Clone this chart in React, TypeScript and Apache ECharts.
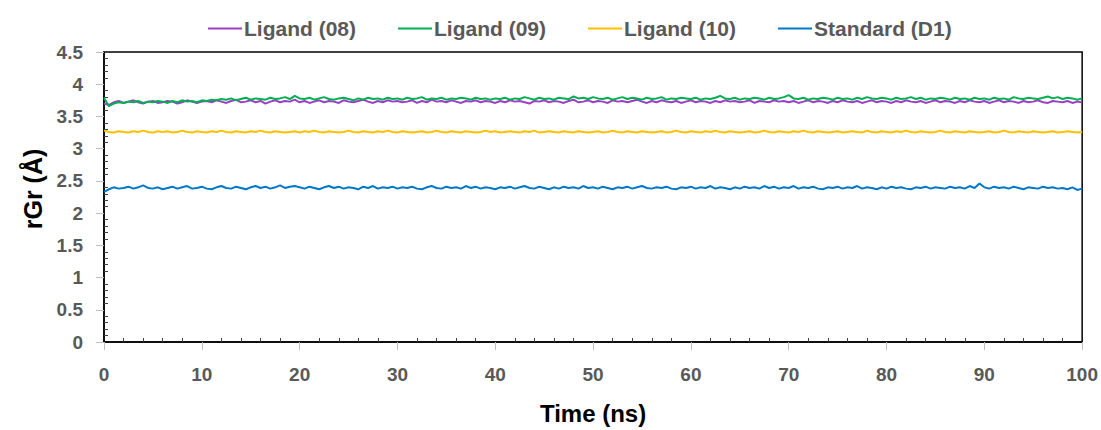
import React, { useEffect, useRef } from "react";
import * as echarts from "echarts";

const SERIES_NAMES = ["Ligand (08)", "Ligand (09)", "Ligand (10)", "Standard (D1)"];
const SERIES_COLORS = ["#9B3FC6", "#00B050", "#FFC000", "#0078C8"];
const TIME_STEP = 0.5;

const LIGAND_08 = [
  3.70,3.68,3.72,3.74,3.71,3.73,3.75,3.72,3.70,3.73,3.74,3.71,3.72,3.74,3.73,3.70,3.72,3.75,3.73,3.71,
  3.73,3.74,3.72,3.75,3.73,3.71,3.74,3.76,3.72,3.73,3.75,3.72,3.74,3.70,3.73,3.75,3.72,3.74,3.73,3.76,
  3.72,3.74,3.71,3.73,3.75,3.72,3.74,3.73,3.71,3.75,3.73,3.72,3.74,3.76,3.73,3.71,3.74,3.72,3.75,3.73,
  3.74,3.72,3.73,3.75,3.71,3.74,3.72,3.76,3.73,3.74,3.72,3.75,3.73,3.71,3.74,3.73,3.75,3.72,3.74,3.73,
  3.71,3.74,3.72,3.75,3.73,3.74,3.72,3.70,3.74,3.73,3.75,3.72,3.74,3.73,3.71,3.74,3.76,3.72,3.73,3.75,
  3.72,3.74,3.73,3.71,3.75,3.73,3.74,3.72,3.74,3.76,3.73,3.71,3.74,3.72,3.75,3.73,3.72,3.74,3.71,3.73,
  3.75,3.72,3.74,3.73,3.71,3.74,3.72,3.75,3.73,3.74,3.72,3.73,3.75,3.71,3.74,3.73,3.72,3.75,3.73,3.74,
  3.72,3.74,3.71,3.73,3.75,3.72,3.74,3.73,3.71,3.74,3.72,3.75,3.73,3.72,3.74,3.71,3.73,3.75,3.72,3.74,
  3.73,3.71,3.74,3.72,3.75,3.73,3.72,3.74,3.71,3.73,3.75,3.72,3.74,3.73,3.71,3.74,3.72,3.75,3.73,3.72,
  3.74,3.71,3.73,3.75,3.72,3.74,3.73,3.71,3.74,3.72,3.73,3.75,3.72,3.71,3.74,3.73,3.72,3.74,3.71,3.73,
  3.72,
];

const LIGAND_09 = [
  3.79,3.66,3.70,3.72,3.71,3.73,3.72,3.74,3.71,3.73,3.72,3.74,3.73,3.71,3.74,3.72,3.75,3.73,3.74,3.72,
  3.75,3.74,3.76,3.75,3.77,3.76,3.78,3.75,3.77,3.79,3.76,3.78,3.77,3.76,3.79,3.77,3.78,3.80,3.77,3.82,
  3.78,3.77,3.79,3.76,3.78,3.80,3.77,3.76,3.78,3.79,3.77,3.75,3.78,3.76,3.79,3.77,3.78,3.76,3.79,3.77,
  3.78,3.76,3.79,3.77,3.78,3.80,3.76,3.78,3.77,3.79,3.76,3.78,3.77,3.79,3.78,3.76,3.79,3.77,3.78,3.76,
  3.78,3.77,3.79,3.76,3.78,3.77,3.80,3.78,3.76,3.79,3.77,3.78,3.76,3.79,3.78,3.77,3.81,3.78,3.79,3.77,
  3.80,3.78,3.77,3.79,3.76,3.78,3.80,3.77,3.79,3.78,3.76,3.79,3.77,3.78,3.80,3.76,3.78,3.77,3.79,3.78,
  3.77,3.79,3.76,3.78,3.77,3.79,3.82,3.78,3.77,3.79,3.76,3.78,3.77,3.79,3.78,3.76,3.79,3.77,3.78,3.80,
  3.83,3.78,3.77,3.79,3.76,3.78,3.77,3.79,3.78,3.76,3.79,3.77,3.78,3.76,3.79,3.77,3.80,3.78,3.77,3.79,
  3.78,3.76,3.79,3.77,3.78,3.80,3.77,3.79,3.76,3.78,3.77,3.79,3.78,3.76,3.79,3.77,3.78,3.76,3.79,3.77,
  3.78,3.76,3.79,3.77,3.78,3.76,3.80,3.78,3.77,3.79,3.78,3.77,3.79,3.81,3.78,3.80,3.77,3.79,3.78,3.76,
  3.78,
];

const LIGAND_10 = [
  3.28,3.26,3.25,3.27,3.26,3.25,3.27,3.26,3.28,3.26,3.25,3.27,3.26,3.27,3.25,3.26,3.28,3.26,3.25,3.27,
  3.26,3.25,3.27,3.26,3.28,3.26,3.25,3.27,3.26,3.25,3.27,3.26,3.28,3.26,3.25,3.27,3.26,3.25,3.26,3.27,
  3.25,3.27,3.26,3.28,3.26,3.25,3.27,3.26,3.25,3.26,3.28,3.26,3.25,3.27,3.26,3.25,3.27,3.26,3.28,3.26,
  3.25,3.27,3.26,3.25,3.26,3.27,3.25,3.26,3.28,3.26,3.25,3.27,3.26,3.25,3.27,3.26,3.25,3.26,3.28,3.26,
  3.27,3.25,3.26,3.27,3.26,3.25,3.27,3.26,3.28,3.25,3.26,3.27,3.26,3.25,3.27,3.26,3.25,3.27,3.26,3.25,
  3.26,3.27,3.25,3.26,3.28,3.26,3.25,3.27,3.26,3.25,3.27,3.26,3.25,3.26,3.27,3.25,3.26,3.28,3.26,3.25,
  3.27,3.26,3.25,3.27,3.26,3.28,3.26,3.25,3.27,3.26,3.25,3.26,3.27,3.25,3.26,3.28,3.26,3.25,3.27,3.26,
  3.25,3.27,3.26,3.28,3.26,3.25,3.27,3.26,3.25,3.26,3.27,3.25,3.26,3.27,3.26,3.25,3.28,3.26,3.25,3.27,
  3.26,3.25,3.27,3.26,3.28,3.26,3.25,3.27,3.26,3.25,3.26,3.28,3.26,3.25,3.27,3.26,3.25,3.27,3.26,3.25,
  3.26,3.27,3.25,3.26,3.28,3.26,3.25,3.27,3.26,3.25,3.27,3.26,3.25,3.26,3.27,3.25,3.26,3.27,3.26,3.25,
  3.26,
];

const STANDARD_D1 = [
  2.33,2.37,2.40,2.38,2.39,2.41,2.38,2.40,2.43,2.39,2.38,2.40,2.37,2.39,2.41,2.38,2.40,2.42,2.38,2.39,
  2.41,2.38,2.37,2.40,2.42,2.39,2.38,2.41,2.39,2.37,2.40,2.42,2.39,2.41,2.38,2.40,2.43,2.39,2.41,2.42,
  2.40,2.38,2.41,2.39,2.37,2.40,2.42,2.39,2.41,2.38,2.40,2.39,2.37,2.41,2.39,2.42,2.38,2.40,2.39,2.41,
  2.38,2.40,2.39,2.41,2.38,2.37,2.40,2.42,2.39,2.38,2.41,2.39,2.40,2.38,2.42,2.39,2.41,2.38,2.40,2.39,
  2.37,2.40,2.39,2.41,2.38,2.40,2.42,2.39,2.38,2.41,2.39,2.37,2.40,2.38,2.41,2.39,2.40,2.38,2.42,2.39,
  2.40,2.38,2.41,2.39,2.37,2.40,2.39,2.41,2.38,2.40,2.42,2.39,2.38,2.40,2.39,2.41,2.38,2.37,2.40,2.39,
  2.41,2.38,2.40,2.39,2.42,2.38,2.40,2.39,2.37,2.40,2.38,2.41,2.39,2.40,2.38,2.42,2.39,2.41,2.38,2.40,
  2.39,2.42,2.38,2.40,2.39,2.41,2.38,2.37,2.40,2.39,2.41,2.38,2.40,2.39,2.42,2.38,2.40,2.39,2.37,2.40,
  2.38,2.41,2.39,2.40,2.38,2.37,2.40,2.39,2.41,2.38,2.40,2.39,2.38,2.41,2.39,2.40,2.38,2.42,2.39,2.46,
  2.40,2.38,2.41,2.39,2.40,2.38,2.41,2.39,2.37,2.40,2.39,2.38,2.41,2.39,2.40,2.38,2.39,2.37,2.40,2.36,
  2.38,
];

const SERIES_VALUES = [LIGAND_08, LIGAND_09, LIGAND_10, STANDARD_D1];

const FONT = "'Liberation Sans', Arial, sans-serif";

export default function App() {
  const ref = useRef<HTMLDivElement>(null);
  useEffect(() => {
    if (!ref.current) return;
    const chart = echarts.init(ref.current, undefined, { renderer: "svg" });
    chart.setOption({
      animation: false,
      backgroundColor: "#ffffff",
      legend: {
        top: 13,
        left: 203,
        icon: "rect",
        itemWidth: 34,
        itemHeight: 2,
        itemGap: 42,
        textStyle: { fontFamily: FONT, fontWeight: "bold", fontSize: 21, color: "#595959", padding: [0, 0, 0, -3] },
        data: SERIES_NAMES,
      },
      grid: {
        left: 104,
        right: 18,
        top: 52,
        bottom: 84,
        show: true,
        borderColor: "#000000",
        borderWidth: 1.5,
        containLabel: false,
      },
      xAxis: [
        {
          type: "value",
          min: 0,
          max: 100,
          interval: 10,
          name: "Time (ns)",
          nameLocation: "middle",
          nameGap: 59,
          nameTextStyle: { fontFamily: FONT, fontWeight: "bold", fontSize: 24, color: "#000000" },
          axisLine: { show: true, lineStyle: { color: "#000000", width: 1.5 } },
          axisTick: { show: true, inside: false, length: 8, lineStyle: { color: "#BFBFBF", width: 1 } },
          axisLabel: { margin: 23, fontFamily: FONT, fontWeight: "bold", fontSize: 19, color: "#595959" },
          splitLine: { show: false },
        },
        {
          type: "value",
          min: 0,
          max: 100,
          interval: 10,
          position: "bottom",
          axisLine: { show: false },
          axisTick: { show: false, inside: true },
          minorTick: { show: true, splitNumber: 5, length: 4, lineStyle: { color: "#404040", width: 1 } },
          axisLabel: { show: false },
          splitLine: { show: false },
        },
      ],
      yAxis: [
        {
          type: "value",
          min: 0,
          max: 4.5,
          interval: 0.5,
          name: "rGr (Å)",
          nameLocation: "middle",
          nameGap: 58,
          nameTextStyle: {
            fontFamily: FONT,
            fontWeight: "bold",
            fontSize: 25,
            color: "#000000",
            padding: [0, 0, 0, 16],
          },
          axisLine: { show: true, lineStyle: { color: "#000000", width: 1.5 } },
          axisTick: { show: true, inside: false, length: 8, lineStyle: { color: "#BFBFBF", width: 1 } },
          axisLabel: { margin: 21, fontFamily: FONT, fontWeight: "bold", fontSize: 19, color: "#595959" },
          splitLine: { show: false },
        },
        {
          type: "value",
          min: 0,
          max: 4.5,
          interval: 0.5,
          position: "left",
          axisLine: { show: false },
          axisTick: { show: false, inside: true },
          minorTick: { show: true, splitNumber: 5, length: 4, lineStyle: { color: "#404040", width: 1 } },
          axisLabel: { show: false },
          splitLine: { show: false },
        },
      ],
      series: SERIES_NAMES.map((name, si) => ({
        name,
        type: "line",
        xAxisIndex: 0,
        yAxisIndex: 0,
        symbol: "none",
        showSymbol: false,
        color: SERIES_COLORS[si],
        lineStyle: { width: 2, color: SERIES_COLORS[si] },
        data: SERIES_VALUES[si].map((v, i) => [i * TIME_STEP, v]),
      })),
    });
    return () => chart.dispose();
  }, []);
  return (
    <div
      ref={ref}
      style={{ position: "fixed", left: 0, top: 0, width: 1101, height: 430, background: "#ffffff" }}
    />
  );
}
